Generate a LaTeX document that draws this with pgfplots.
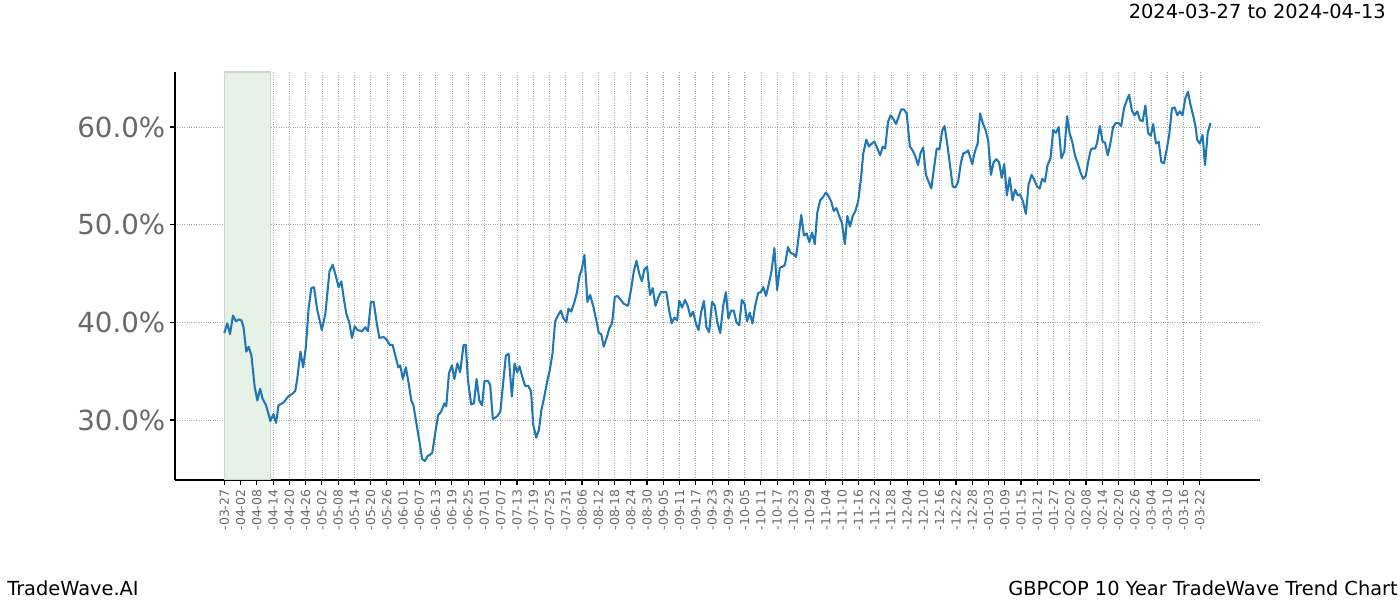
\documentclass[border=0pt]{standalone}
\usepackage{pgfplots}
\pgfplotsset{compat=1.18}
\usepackage{fontspec}
\setmainfont{DejaVu Sans}
\definecolor{lineblue}{RGB}{31,119,180}
\definecolor{tickgray}{RGB}{105,105,105}
\definecolor{spanfill}{RGB}{230,242,230}
\definecolor{spanedge}{RGB}{208,212,208}
\definecolor{gridgray}{RGB}{170,170,170}
\begin{document}
\begin{tikzpicture}
\useasboundingbox (0in,0in) rectangle (14in,6in);
\begin{axis}[
  at={(1.75in,1.2in)}, anchor=south west, scale only axis,
  width=10.85in, height=4.08in,
  xmin=-18.2, xmax=382.2, ymin=23.86, ymax=65.63,
  axis lines*=left, axis line style={-, line width=0.8pt, black},
  tick align=outside, major tick length=3.5pt,
  every tick/.style={black, line width=0.8pt},
  grid=major, grid style={gridgray, line width=0.5pt, dash pattern=on 0.6pt off 1.1pt},
  /pgf/number format/assume math mode=true,
  ytick={30,40,50,60},
  yticklabels={30.0\%,40.0\%,50.0\%,60.0\%},
  yticklabel style={font=\fontsize{20}{24}\selectfont, text=tickgray},
  xtick={0,6,...,360},
  xticklabels={-03-27,-04-02,-04-08,-04-14,-04-20,-04-26,-05-02,-05-08,-05-14,-05-20,-05-26,-06-01,-06-07,-06-13,-06-19,-06-25,-07-01,-07-07,-07-13,-07-19,-07-25,-07-31,-08-06,-08-12,-08-18,-08-24,-08-30,-09-05,-09-11,-09-17,-09-23,-09-29,-10-05,-10-11,-10-17,-10-23,-10-29,-11-04,-11-10,-11-16,-11-22,-11-28,-12-04,-12-10,-12-16,-12-22,-12-28,-01-03,-01-09,-01-15,-01-21,-01-27,-02-02,-02-08,-02-14,-02-20,-02-26,-03-04,-03-10,-03-16,-03-22},
  xticklabel style={font=\fontsize{9}{10}\selectfont, text=tickgray, rotate=90, anchor=east},
  clip=true,
]
\addplot[fill=spanfill, draw=spanedge, line width=1.1pt] coordinates {(0,23.86) (0,65.63) (17,65.63) (17,23.86)} -- cycle;
\addplot[lineblue, line width=1.5pt, line join=round] coordinates {
(0,38.9) (1.1,39.9) (2.1,38.8) (3.2,40.7) (4.3,40.1) (5.3,40.3) (6.3,40.2) (7.1,39.5) (8.1,37.0) (9,37.5)
(10,36.6) (11.2,33.4) (12.2,32.0) (13.2,33.2) (14.1,32.2) (15.4,31.5) (17,29.9) (18.1,30.6) (19.1,29.7) (20,31.5)
(21.9,31.8) (23.5,32.4) (25.2,32.7) (26.2,33.0) (26.9,34.2) (28.1,37.0) (29.1,35.4) (30.1,37.5) (31.1,41.4) (32.1,43.5)
(33.1,43.6) (34.2,41.4) (36,39.2) (37.3,40.9) (38.8,45.2) (40,45.9) (41.2,44.7) (42.2,43.6) (43.2,44.2) (44,42.6)
(45,40.9) (46.1,40.0) (47.1,38.4) (48.1,39.6) (49.2,39.2) (50.9,39.1) (52,39.5) (53,39.1) (54.1,42.1) (55.1,42.1)
(56.1,40.2) (57.2,38.4) (58.8,38.5) (60,38.2) (61,37.7) (62.1,37.7) (63.1,36.6) (64.2,35.4) (64.9,35.6) (65.9,34.2)
(67,35.4) (68,33.8) (69,32.0) (69.8,31.5) (71.1,29.3) (72,27.8) (73,26.0) (74,25.8) (75,26.3) (76.7,26.6)
(77.8,28.6) (78.9,30.5) (79.9,30.8) (81.2,31.7) (81.9,31.4) (82.9,34.8) (84,35.6) (84.9,34.2) (86,35.8) (87,34.9)
(88.3,37.7) (89.1,37.7) (89.9,34.1) (91.1,31.6) (92.1,31.7) (93.1,34.2) (94.1,32.0) (95.1,31.5) (96,34.0) (97.3,34.0)
(98.1,33.6) (99.1,30.1) (100.8,30.4) (101.9,30.9) (102.9,33.8) (103.9,36.6) (104.9,36.8) (106.1,32.4) (107.1,35.8) (108.1,34.9)
(108.9,35.5) (110,34.4) (111,33.5) (112.2,33.5) (113.2,32.9) (114,29.5) (115.1,28.2) (116.1,29.0) (117,31.0) (118.1,32.4)
(119.1,33.9) (120.1,35.1) (121.1,36.8) (122.1,40.1) (123.1,40.7) (124.2,41.2) (125.2,40.4) (126.2,40.0) (127,41.4) (128,41.1)
(129,41.9) (130.1,43.0) (131.1,44.8) (131.9,45.4) (132.9,46.9) (134,42.1) (135,42.8) (136.2,41.6) (137.2,40.3) (138.2,38.9)
(139.1,38.8) (140,37.5) (141.2,38.5) (142.1,39.4) (143.1,39.9) (144.1,42.6) (145.1,42.7) (146.3,42.3) (147.4,41.9) (149,41.7)
(150.2,43.5) (151.1,45.2) (152.1,46.3) (153.1,45.0) (154.1,44.2) (155,45.4) (156,45.7) (157.1,42.8) (158.1,43.5) (159.1,41.7)
(160.1,42.5) (161.1,43.1) (162,43.1) (163.1,43.1) (164.1,41.3) (165.1,39.9) (166.1,40.5) (167.1,40.2) (167.9,42.2) (168.9,41.5)
(170,42.3) (171,41.7) (172,40.6) (173,41.1) (174,39.9) (175,39.2) (176,41.1) (177,42.2) (177.9,39.5) (178.9,39.0)
(180,42.1) (181,41.7) (182,39.9) (183,38.9) (184.1,41.7) (185.1,43.1) (186,40.4) (187,41.2) (188,41.2) (189,40.0)
(190,39.7) (191,42.3) (192,41.9) (192.9,40.1) (193.9,41.0) (194.9,39.9) (195.9,41.7) (197,43.0) (198,43.1) (198.9,43.6)
(199.9,42.7) (200.9,43.9) (201.9,45.2) (203,47.6) (204,43.3) (205,45.6) (206.1,45.7) (206.9,45.9) (208,47.7) (209,47.1)
(210,47.0) (211,46.7) (212,48.9) (212.9,51.0) (213.9,48.9) (214.9,49.1) (215.9,48.2) (216.9,49.2) (217.9,48.0) (218.8,51.2)
(219.9,52.5) (220.9,52.8) (222,53.3) (223,52.9) (223.9,52.4) (224.9,51.4) (225.9,51.7) (226.9,50.9) (227.9,50.2) (229,48.0)
(229.9,50.9) (230.9,49.8) (231.9,50.9) (232.9,51.4) (233.9,52.4) (234.9,54.6) (235.8,57.3) (236.9,58.7) (237.9,58.0) (238.9,58.3)
(239.9,58.5) (241,57.8) (242,57.1) (243,58.0) (243.9,57.8) (244.9,60.5) (245.9,61.2) (246.9,60.8) (247.9,60.3) (248.9,61.1)
(249.8,61.8) (250.8,61.8) (251.8,61.4) (253,58.0) (254,57.6) (255,57.0) (256,56.1) (257,57.4) (257.9,57.9) (258.9,55.1)
(259.9,54.4) (260.9,53.7) (261.9,55.8) (262.9,57.8) (263.9,57.7) (264.9,59.6) (265.8,60.1) (266.8,58.2) (267.8,56.1) (268.8,53.9)
(269.8,53.8) (270.8,54.4) (271.8,56.3) (272.7,57.3) (273.7,57.4) (274.5,57.6) (276,56.2) (277,57.5) (278,58.3) (278.9,61.4)
(279.9,60.4) (280.9,59.7) (281.9,58.6) (282.9,55.1) (283.9,56.4) (284.9,56.7) (285.9,56.4) (286.9,54.8) (287.8,56.2) (288.8,53.0)
(289.8,54.8) (290.9,52.5) (291.8,53.6) (292.8,53.0) (293.7,53.1) (294.7,52.4) (295.8,51.1) (296.8,54.1) (297.9,55.1) (298.9,54.6)
(299.9,53.9) (300.9,53.7) (301.8,54.7) (302.8,54.4) (303.8,56.1) (304.9,56.8) (305.9,59.7) (306.9,59.4) (307.9,60.0) (308.9,56.8)
(310,57.5) (311,61.1) (311.9,59.4) (312.9,58.5) (313.9,57.1) (314.9,56.3) (315.9,55.4) (316.9,54.7) (317.9,55.0) (318.9,56.6)
(319.8,57.7) (320.4,57.8) (321.4,57.8) (322.1,58.4) (323.1,60.1) (324.1,58.5) (325,58.4) (326,57.1) (326.9,58.2) (328,60.0)
(329,60.4) (330,60.4) (331,60.1) (332,61.9) (333,62.7) (333.9,63.3) (334.9,61.7) (335.9,61.2) (336.9,61.6) (337.9,60.7)
(338.9,60.6) (339.9,62.2) (340.9,59.4) (341.9,59.1) (342.8,60.3) (343.8,58.3) (344.8,58.5) (345.8,56.4) (346.8,56.3) (347.7,57.6)
(348.7,59.2) (349.7,61.9) (350.7,62.0) (351.7,61.2) (352.6,61.6) (353.6,61.2) (354.6,62.9) (355.6,63.6) (356.6,62.2) (357.6,61.1)
(358.5,59.9) (359,58.7) (360,58.3) (361,59.2) (361.9,56.1) (362.9,59.4) (363.9,60.4)
};
\end{axis}
\node[anchor=base east, inner sep=0pt, font=\fontsize{14}{16}\selectfont] at (13.86in,5.81in) {2024-03-27 to 2024-04-13};
\node[anchor=base west, inner sep=0pt, font=\fontsize{14}{16}\selectfont] at (0.07in,0.05in) {TradeWave.AI};
\node[anchor=base east, inner sep=0pt, font=\fontsize{14}{16}\selectfont] at (13.98in,0.05in) {GBPCOP 10 Year TradeWave Trend Chart};
\end{tikzpicture}
\end{document}
